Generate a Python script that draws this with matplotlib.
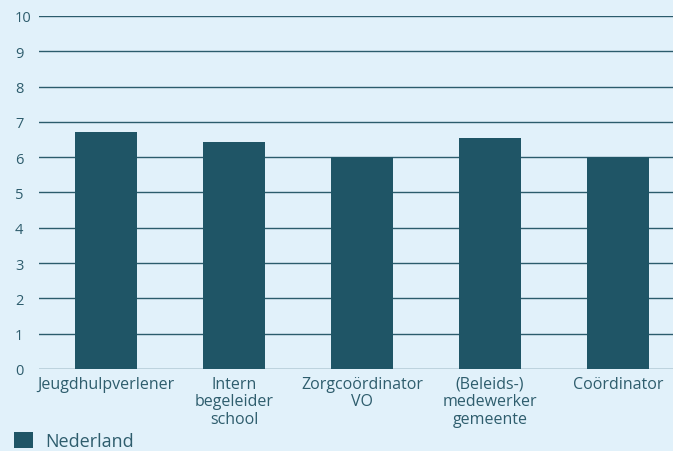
import matplotlib
matplotlib.use("Agg")
import matplotlib.pyplot as plt
from matplotlib.patches import Patch

categories = ["Jeugdhulpverlener", "Intern\nbegeleider\nschool", "Zorgcoördinator\nVO",
              "(Beleids-)\nmedewerker\ngemeente", "Coördinator"]
values = [6.7, 6.42, 6.0, 6.53, 6.0]
series_name = "Nederland"
yticks = list(range(0, 11))

bg = "#e1f1fa"
bar_color = "#1f5566"
grid_color = "#2b5c6c"
text_color = "#2e5d6d"

plt.rcParams['font.family'] = ['Open Sans', 'DejaVu Sans']

fig = plt.figure(figsize=(6.73, 4.52), dpi=100, facecolor=bg)
ax = fig.add_axes([39/673, 82/452, 1 - 39/673, (370-17)/452])
ax.set_facecolor(bg)

x = list(range(len(categories)))
ax.bar(x, values, width=0.484, color=bar_color, zorder=3)

ax.set_ylim(0, 10)
ax.set_xlim(-0.523, 4.43)
ax.set_yticks(yticks)
ax.set_yticklabels([str(t) for t in yticks], ha='left')
ax.tick_params(axis='y', length=0, pad=17.3, labelsize=10.5, labelcolor=text_color)
ax.set_xticks(x)
ax.set_xticklabels(categories, linespacing=1.12)
ax.tick_params(axis='x', length=0, pad=5, labelsize=11.5, labelcolor=text_color)
ax.grid(axis='y', color=grid_color, linewidth=1.0, zorder=0)
ax.set_axisbelow(True)
for s in ax.spines.values():
    s.set_visible(False)

handles = [Patch(facecolor=bar_color, edgecolor='none', label=series_name)]
fig.legend(handles=handles, loc='center left', bbox_to_anchor=(14/673, (452-442)/452),
           frameon=False, fontsize=13, labelcolor=text_color,
           borderpad=0, borderaxespad=0,
           handlelength=1.05, handleheight=1.05, handletextpad=0.67)

fig.savefig("out.png", dpi=100, facecolor=bg)
